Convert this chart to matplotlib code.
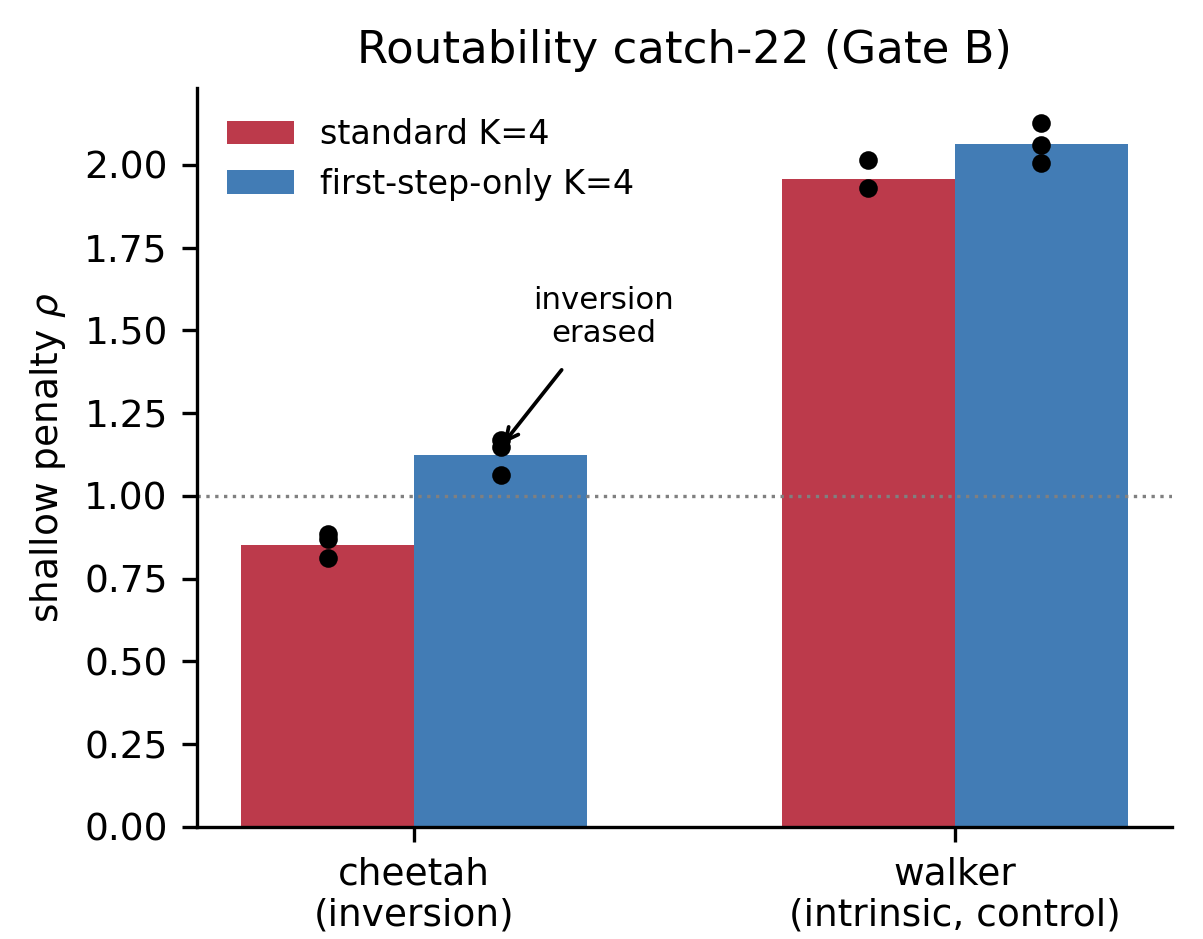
import matplotlib.pyplot as plt
import numpy as np

envs = ["cheetah\n(inversion)", "walker\n(intrinsic, control)"]
std_mean = [0.853, 1.958]
fso_mean = [1.125, 2.063]
std_seeds = [[0.886, 0.871, 0.811], [2.015, 1.929]]
fso_seeds = [[1.169, 1.149, 1.063], [2.126, 2.060, 2.005]]

c_std = '#bc3a4b'
c_fso = '#427cb5'

fig, ax = plt.subplots(figsize=(4.013, 3.13), dpi=300)
fig.subplots_adjust(left=0.1636, right=0.9734, top=0.9063, bottom=0.1193)
x = np.arange(len(envs))
w = 0.32

ax.bar(x - w/2, std_mean, w, color=c_std, label="standard K=4")
ax.bar(x + w/2, fso_mean, w, color=c_fso, label="first-step-only K=4")

for i in range(len(envs)):
    ax.scatter([x[i] - w/2]*len(std_seeds[i]), std_seeds[i], color='black', s=20, zorder=3, linewidths=0)
    ax.scatter([x[i] + w/2]*len(fso_seeds[i]), fso_seeds[i], color='black', s=20, zorder=3, linewidths=0)

ax.axhline(1.0, color='gray', linestyle=':', linewidth=0.8)

ax.annotate("inversion\nerased", xy=(x[0] + w/2, 1.148), xytext=(0.35, 1.54),
            ha='center', va='center', fontsize=7.4,
            arrowprops=dict(arrowstyle='->', color='black', lw=0.9, shrinkA=4, shrinkB=1))

ax.set_yticks(np.arange(0, 2.01, 0.25))
ax.set_xticks(x)
ax.set_xticklabels(envs)
ax.tick_params(labelsize=9, width=0.8)
ax.set_ylabel(r"shallow penalty $\rho$", fontsize=9)
ax.set_title("Routability catch-22 (Gate B)", fontsize=10.8)
ax.spines['top'].set_visible(False)
ax.spines['right'].set_visible(False)
ax.legend(frameon=False, fontsize=8, loc='upper left')

fig.savefig("out.png")
